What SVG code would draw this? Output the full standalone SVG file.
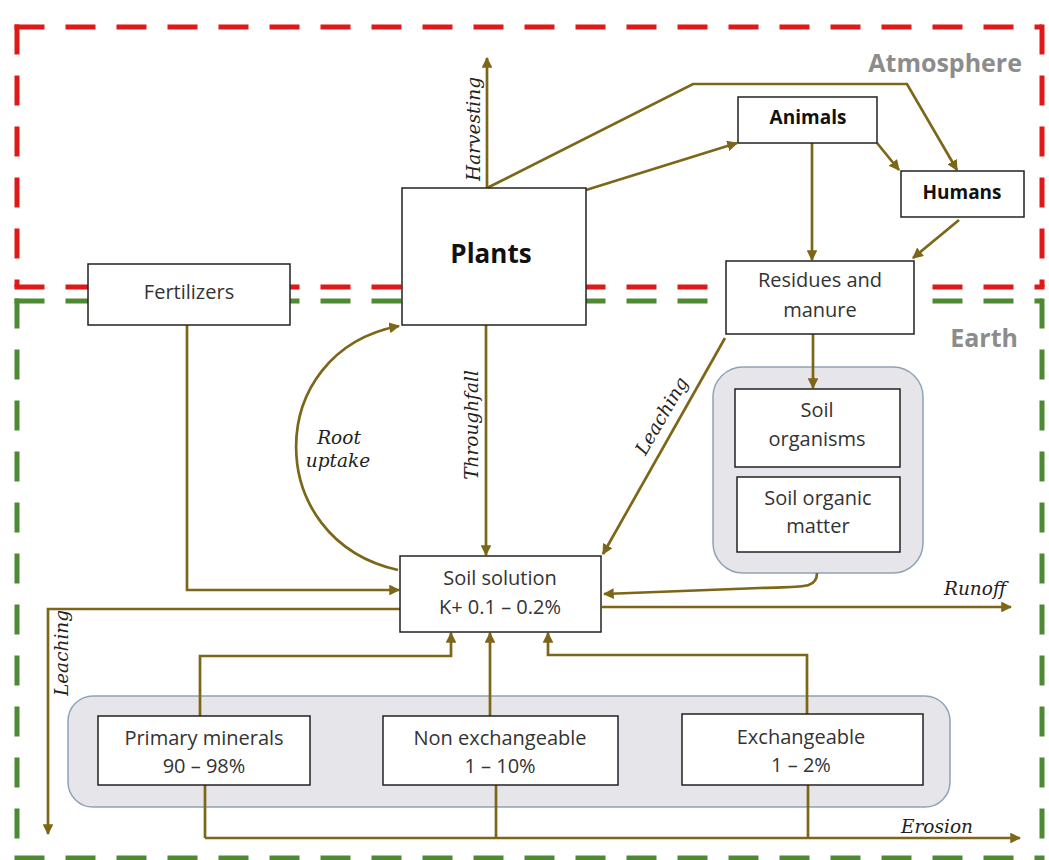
<svg xmlns="http://www.w3.org/2000/svg" width="1049" height="860" viewBox="0 0 1049 860">
<defs>
<marker id="ah" viewBox="0 0 10 10" refX="9" refY="5" markerWidth="4" markerHeight="4" orient="auto" markerUnits="strokeWidth">
<path d="M0,0 L10,5 L0,10 z" fill="#7d6617"/>
</marker>
</defs>
<style>
.box{fill:#fff;stroke:#222;stroke-width:1.5}
.grp{fill:#e6e6ea;stroke:#8fa3b8;stroke-width:1.5}
.t{font-family:"Open Sans","Liberation Sans",sans-serif;font-size:20px;fill:#333;text-anchor:middle}
.b{font-family:"Open Sans","Liberation Sans",sans-serif;font-weight:bold;fill:#111;text-anchor:middle}
.zone{font-family:"Open Sans","Liberation Sans",sans-serif;font-weight:bold;font-size:25px;fill:#8c8c8c;text-anchor:end}
.lab{font-family:"DejaVu Serif","Liberation Serif",serif;font-style:italic;font-size:18.5px;fill:#222;text-anchor:middle}
.c{fill:none;stroke:#7d6617;stroke-width:2.7}
.ca{fill:none;stroke:#7d6617;stroke-width:2.7;marker-end:url(#ah)}
.red{fill:none;stroke:#e01818;stroke-width:5;stroke-dasharray:30,21}
.grn{fill:none;stroke:#4e8a34;stroke-width:5;stroke-dasharray:30,21}
</style>
<rect width="1049" height="860" fill="#fff"/>
<g id="zones">
<path class="red" d="M14.5,27 H1042"/>
<path class="red" d="M17,24.5 V287"/>
<path class="red" d="M1042,24.5 V287"/>
<path class="red" d="M14.5,287 H1044.5"/>
<path class="grn" d="M14.5,301 H1042"/>
<path class="grn" d="M17,298.5 V858"/>
<path class="grn" d="M1042,298.5 V858"/>
<path class="grn" d="M14.5,858 H1044.5"/>
<text class="zone" x="1022" y="72">Atmosphere</text>
<text class="zone" x="1018" y="347">Earth</text>
</g>
<g id="soil-organic-group"><rect class="grp" x="713" y="367" width="210" height="206" rx="30"/></g>
<g id="minerals-group"><rect class="grp" x="68" y="696" width="882" height="111" rx="25"/></g>
<g id="connectors">
<path class="ca" d="M487,188 V58"/>
<path class="ca" d="M487,188 L693,84 H907 L957,170"/>
<path class="ca" d="M586,190 L737,143"/>
<path class="ca" d="M877,143 L899,170"/>
<path class="ca" d="M812,143 V260"/>
<path class="ca" d="M959,220 L913,258"/>
<path class="ca" d="M813,334 V388"/>
<path class="ca" d="M725,338 L603,554"/>
<path class="ca" d="M486,325 V555"/>
<path class="ca" d="M398,570 C262,540 262,352 399,326"/>
<path class="ca" d="M187,325 V590 H399"/>
<path class="ca" d="M817,573 C817,590 800,586 760,588 L604,594"/>
<path class="ca" d="M602,607 H1011"/>
<path class="ca" d="M400,609 H48 V834"/>
<path class="ca" d="M200,716 V656 H451 V633"/>
<path class="ca" d="M490,716 V633"/>
<path class="ca" d="M807,714 V655 H548 V633"/>
<path class="c" d="M205,785 V838"/>
<path class="c" d="M496,785 V838"/>
<path class="c" d="M808,785 V838"/>
<path class="ca" d="M205,838 H1020"/>
<text class="lab" transform="translate(480,129) rotate(-90)">Harvesting</text>
<text class="lab" transform="translate(478,425) rotate(-90)">Throughfall</text>
<text class="lab" transform="translate(667,419) rotate(-60)">Leaching</text>
<text class="lab" transform="translate(68,653) rotate(-90)">Leaching</text>
<text class="lab" x="339" y="444">Root</text>
<text class="lab" x="338" y="467">uptake</text>
<text class="lab" x="975" y="595">Runoff</text>
<text class="lab" x="937" y="833">Erosion</text>
</g>
<g id="plants"><rect class="box" x="402" y="188" width="184" height="137"/><text class="b" x="491" y="263" font-size="26">Plants</text></g>
<g id="fertilizers"><rect class="box" x="88" y="264" width="202" height="61"/><text class="t" x="189" y="299">Fertilizers</text></g>
<g id="animals"><rect class="box" x="738" y="97" width="139" height="46"/><text class="b" x="808" y="124" font-size="19">Animals</text></g>
<g id="humans"><rect class="box" x="901" y="171" width="123" height="46"/><text class="b" x="962" y="199" font-size="19">Humans</text></g>
<g id="residues"><rect class="box" x="726" y="261" width="188" height="73"/><text class="t" x="820" y="287">Residues and</text><text class="t" x="820" y="317">manure</text></g>
<g id="soil-organisms"><rect class="box" x="735" y="389" width="165" height="78"/><text class="t" x="817" y="417">Soil</text><text class="t" x="817" y="446">organisms</text></g>
<g id="soil-organic-matter"><rect class="box" x="737" y="477" width="163" height="75"/><text class="t" x="818" y="505">Soil organic</text><text class="t" x="818" y="533">matter</text></g>
<g id="soil-solution"><rect class="box" x="400" y="556" width="201" height="76"/><text class="t" x="500" y="585">Soil solution</text><text class="t" x="500" y="614">K+ 0.1 – 0.2%</text></g>
<g id="primary"><rect class="box" x="98" y="716" width="212" height="69"/><text class="t" x="204" y="745">Primary minerals</text><text class="t" x="204" y="773">90 – 98%</text></g>
<g id="nonexch"><rect class="box" x="383" y="716" width="235" height="69"/><text class="t" x="500" y="745">Non exchangeable</text><text class="t" x="500" y="773">1 – 10%</text></g>
<g id="exch"><rect class="box" x="682" y="714" width="241" height="71"/><text class="t" x="801" y="744">Exchangeable</text><text class="t" x="801" y="772">1 – 2%</text></g>
</svg>
